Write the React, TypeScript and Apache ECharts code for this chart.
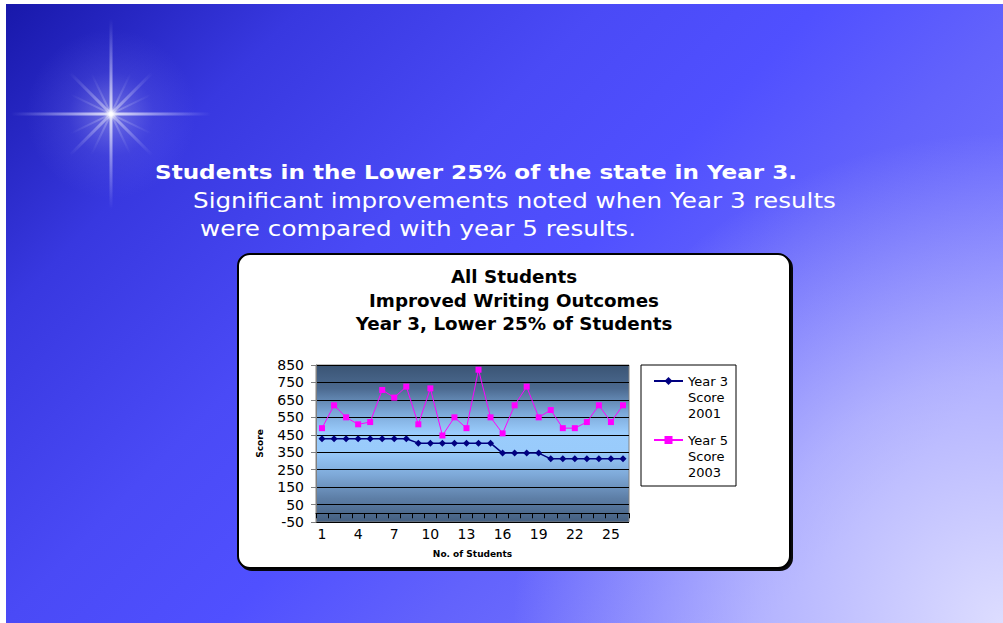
import { useEffect, useRef } from "react";
import * as echarts from "echarts";

const categories = ["1","2","3","4","5","6","7","8","9","10","11","12","13","14","15","16","17","18","19","20","21","22","23","24","25","26"];
const year3Score2001 = [427,427,427,427,427,427,427,427,402,402,402,402,402,402,402,345,345,345,345,312,312,312,312,312,312,312];
const year5Score2003 = [488,619,550,510,523,707,663,726,510,716,446,550,488,823,550,458,619,726,550,592,488,488,523,619,523,619];
const seriesNames = ["Year 3 Score 2001", "Year 5 Score 2003"];
const chartTitleLines = ["All Students", "Improved Writing Outcomes", "Year 3, Lower 25% of Students"];
const slideHeading = "Students in the Lower 25% of the state in Year 3.";
const slideLines = ["Significant improvements noted when Year 3 results", "were compared with year 5 results."];
const yAxisName = "Score";
const xAxisName = "No. of Students";

const FONT = "DejaVu Sans";

function ray(cx: number, cy: number, len: number, thick: number, rot: number, alpha: number) {
  return {
    type: "rect",
    x: cx,
    y: cy,
    rotation: rot,
    z: -8,
    silent: true,
    shape: { x: -len, y: -thick / 2, width: len * 2, height: thick },
    style: {
      fill: new echarts.graphic.LinearGradient(0, 0, 1, 0, [
        { offset: 0, color: "rgba(220,220,255,0)" },
        { offset: 0.5, color: `rgba(255,255,255,${alpha})` },
        { offset: 1, color: "rgba(220,220,255,0)" },
      ]),
    },
  };
}

export default function App() {
  const ref = useRef<HTMLDivElement>(null);
  useEffect(() => {
    document.body.style.margin = "0";
    if (!ref.current) return;
    const chart = echarts.init(ref.current, null, { renderer: "svg" });
    const sx = 111, sy = 114;
    const option: any = {
      animation: false,
      textStyle: { fontFamily: FONT },
      title: {
        text: chartTitleLines.join("\n"),
        left: 514,
        top: 265,
        padding: 0,
        textAlign: "center",
        textStyle: { fontFamily: FONT, fontSize: 18.3, fontWeight: "bold", color: "#000", lineHeight: 23.5 },
      },
      graphic: [
        { type: "text", z: -12, x: 34, y: -2, style: { text: "g", font: "22px serif", fill: "#000", verticalAlign: "alphabetic" } },
        {
          type: "rect", z: -11, silent: true,
          shape: { x: 6, y: 4, width: 997, height: 619 },
          style: {
            fill: new echarts.graphic.LinearGradient(0, 0, 1, 0.6, [
              { offset: 0, color: "#1818aa" },
              { offset: 0.22, color: "#3838e0" },
              { offset: 0.44, color: "#4a4af6" },
              { offset: 0.6, color: "#5050ff" },
              { offset: 0.75, color: "#6262fc" },
              { offset: 1, color: "#7a7aff" },
            ]),
          },
        },
        {
          type: "rect", z: -10, silent: true,
          shape: { x: 6, y: 4, width: 997, height: 619 },
          style: {
            fill: new echarts.graphic.RadialGradient(1003, 623, 490, [
              { offset: 0, color: "rgba(226,226,255,0.95)" },
              { offset: 0.5, color: "rgba(226,226,255,0.55)" },
              { offset: 1, color: "rgba(226,226,255,0)" },
            ], true),
          },
        },
        {
          type: "circle", z: -9, silent: true,
          shape: { cx: sx, cy: sy, r: 85 },
          style: {
            fill: new echarts.graphic.RadialGradient(0.5, 0.5, 0.5, [
              { offset: 0, color: "rgba(255,255,255,0.75)" },
              { offset: 0.08, color: "rgba(220,220,255,0.35)" },
              { offset: 0.5, color: "rgba(160,160,255,0.12)" },
              { offset: 1, color: "rgba(140,140,255,0)" },
            ]),
          },
        },
        ray(sx, sy, 100, 3, 0, 0.8),
        ray(sx, sy, 95, 3, Math.PI / 2, 0.8),
        ray(sx, sy, 58, 3, Math.PI / 4, 0.5),
        ray(sx, sy, 58, 3, -Math.PI / 4, 0.5),
        ray(sx, sy, 45, 2, Math.PI / 7, 0.3),
        ray(sx, sy, 45, 2, -Math.PI / 7, 0.3),
        ray(sx, sy, 45, 2, Math.PI / 2 - Math.PI / 7, 0.3),
        ray(sx, sy, 45, 2, Math.PI / 2 + Math.PI / 7, 0.3),
        {
          type: "text", z: -7, x: 155, y: 172, scaleX: 1.155,
          style: { text: slideHeading, fill: "#fff", font: `bold 20px "${FONT}"`, verticalAlign: "middle" },
        },
        {
          type: "text", z: -7, x: 193, y: 200, scaleX: 1.12,
          style: { text: slideLines[0], fill: "#fff", font: `22px "${FONT}"`, verticalAlign: "middle" },
        },
        {
          type: "text", z: -7, x: 200, y: 228, scaleX: 1.12,
          style: { text: slideLines[1], fill: "#fff", font: `22px "${FONT}"`, verticalAlign: "middle" },
        },
        {
          type: "rect", z: -6, silent: true,
          shape: { x: 238, y: 254, width: 552, height: 314, r: 12 },
          style: { fill: "#fff", stroke: "#000", lineWidth: 2, shadowColor: "rgba(0,0,0,0.95)", shadowOffsetX: 2, shadowOffsetY: 2, shadowBlur: 1 },
        },
        {
          type: "rect", z: -5, silent: true,
          shape: { x: 641, y: 365, width: 95, height: 121 },
          style: { fill: "#fff", stroke: "#000", lineWidth: 1 },
        },
      ],
      legend: {
        orient: "vertical",
        left: 653,
        top: 341,
        padding: 0,
        itemGap: -21,
        itemWidth: 29,
        itemHeight: 10,
        data: seriesNames,
        formatter: (name: string) => {
          const p = name.split(" ");
          return " \n \n" + p[0] + " " + p[1] + "\n" + p[2] + "\n" + p[3];
        },
        textStyle: { fontFamily: FONT, fontSize: 13, lineHeight: 16, color: "#000" },
      },
      grid: {
        left: 316,
        right: 374,
        top: 365,
        bottom: 101,
        show: true,
        borderColor: "#808080",
        borderWidth: 1,
        backgroundColor: new echarts.graphic.LinearGradient(0, 0, 0, 1, [
          { offset: 0, color: "#3a5474" },
          { offset: 0.15, color: "#4c6a90" },
          { offset: 0.3, color: "#7aa6d6" },
          { offset: 0.43, color: "#9accfc" },
          { offset: 0.55, color: "#99cbfb" },
          { offset: 0.7, color: "#7ea9d8" },
          { offset: 0.85, color: "#5d7ea6" },
          { offset: 1, color: "#445f80" },
        ]),
      },
      xAxis: [
        {
          type: "category",
          data: categories,
          position: "bottom",
          boundaryGap: true,
          axisLine: { show: false, onZero: false },
          axisTick: { show: false },
          axisLabel: { interval: 2, fontFamily: FONT, fontSize: 14, color: "#000", margin: 5 },
          name: xAxisName,
          nameLocation: "middle",
          nameGap: 27,
          nameTextStyle: { fontFamily: FONT, fontSize: 9, fontWeight: "bold", color: "#000" },
        },
        {
          type: "category",
          data: categories,
          position: "bottom",
          boundaryGap: true,
          axisLine: { show: true, onZero: true, lineStyle: { color: "#000", width: 1 } },
          axisTick: { show: true, interval: 0, length: 5, lineStyle: { color: "#000" } },
          axisLabel: { show: false },
          splitLine: { show: false },
        },
      ],
      yAxis: {
        type: "value",
        min: -50,
        max: 850,
        interval: 100,
        axisLine: { show: true, lineStyle: { color: "#808080" } },
        axisTick: { show: true, length: 5, lineStyle: { color: "#808080" } },
        axisLabel: { fontFamily: FONT, fontSize: 14, color: "#000", margin: 12 },
        splitLine: { show: true, lineStyle: { color: "#000", width: 1 } },
        name: yAxisName,
        nameLocation: "middle",
        nameGap: 52,
        nameRotate: 90,
        nameTextStyle: { fontFamily: FONT, fontSize: 9, fontWeight: "bold", color: "#000" },
      },
      series: [
        {
          name: seriesNames[0],
          type: "line",
          xAxisIndex: 0,
          data: year3Score2001,
          symbol: "diamond",
          symbolSize: 7,
          itemStyle: { color: "#000080" },
          lineStyle: { color: "#000080", width: 1.5 },
          z: 3,
        },
        {
          name: seriesNames[1],
          type: "line",
          xAxisIndex: 0,
          data: year5Score2003,
          symbol: "rect",
          symbolSize: 6,
          itemStyle: { color: "#ff00ff" },
          lineStyle: { color: "#ff00ff", width: 1 },
          z: 4,
        },
      ],
    };
    chart.setOption(option);
    return () => chart.dispose();
  }, []);
  return <div ref={ref} style={{ width: 1003, height: 623 }} />;
}
